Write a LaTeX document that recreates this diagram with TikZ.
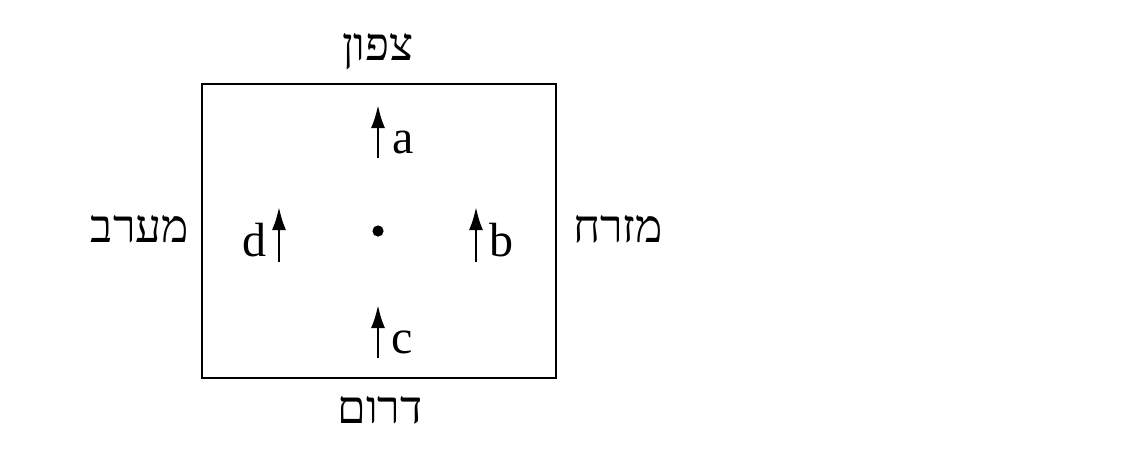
\documentclass[tikz,border=0pt]{standalone}
\usepackage{fontspec}
\setmainfont{Liberation Serif}
\newfontfamily\hebfont[Script=Hebrew]{Liberation Serif}
\TeXXeTstate=1
\usepackage{tikz}
\usetikzlibrary{arrows.meta}

\begin{document}
\begin{tikzpicture}[x=0.5pt,y=-0.5pt,
    vec/.style={line width=1.2pt,-{Latex[length=11.5pt,width=7pt]}},
    lbl/.style={font=\fontsize{24}{28}\selectfont,inner sep=0pt},
    dir/.style={font=\hebfont\fontsize{23}{27}\selectfont,inner sep=0pt,anchor=base}]
    \useasboundingbox (0,0) rectangle (1121,472);
    % the square
    \coordinate (NW) at (202,84);  \coordinate (SE) at (556,378);
    \draw[line width=1.3pt] (NW) rectangle (SE);
    \coordinate (O) at (378,231);
    \fill (O) circle[radius=2.8pt];
    % arrows: tail and tip
    \coordinate (a0) at (378,158); \coordinate (a1) at (378,105);
    \coordinate (b0) at (476,262); \coordinate (b1) at (476,207);
    \coordinate (c0) at (378,358); \coordinate (c1) at (378,305);
    \coordinate (d0) at (279,262); \coordinate (d1) at (279,207);
    \draw[vec] (a0) -- (a1);
    \draw[vec] (b0) -- (b1);
    \draw[vec] (c0) -- (c1);
    \draw[vec] (d0) -- (d1);
    \node[lbl] (la) at (403,142) {a};
    \node[lbl] (lb) at (501,240) {b};
    \node[lbl] (lc) at (402,342) {c};
    \node[lbl] (ld) at (254,240) {d};
    % compass labels
    \node[dir] (north) at (378,60)  {\beginR צפון\endR};
    \node[dir] (south) at (380,423) {\beginR דרום\endR};
    \node[dir] (west)  at (140,242) {\beginR מערב\endR};
    \node[dir] (east)  at (618,242) {\beginR מזרח\endR};
\end{tikzpicture}
\end{document}
